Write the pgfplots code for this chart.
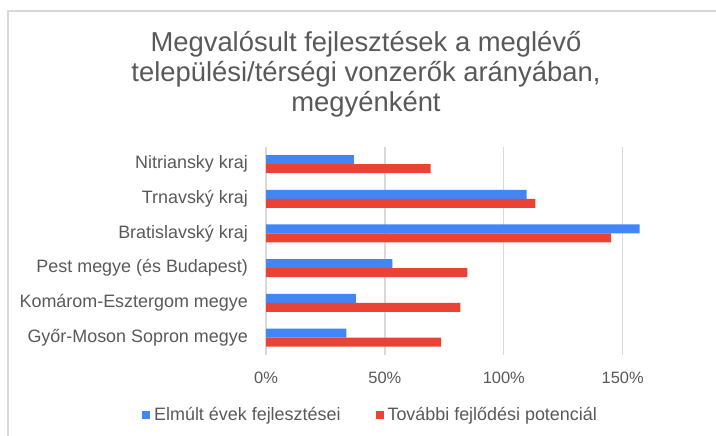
\documentclass[border=0pt]{standalone}
\usepackage{fontspec}
\setmainfont{Liberation Sans}
\usepackage{pgfplots}
\pgfplotsset{compat=1.18}

\definecolor{gblue}{HTML}{4285F4}
\definecolor{gred}{HTML}{EA4335}
\definecolor{txtgray}{HTML}{595959}
\definecolor{gridgray}{HTML}{D9D9D9}

\begin{document}
\begin{tikzpicture}
% page size = picture size
\useasboundingbox (0,0) rectangle (716bp,436bp);
\draw[gridgray, line width=1.3bp] (8bp,0) -- (8bp,425bp) -- (716bp,425bp);

% title
\begin{scope}[every node/.style={anchor=base, text=txtgray, inner sep=0pt, font=\fontsize{27.5}{30}\selectfont}]
\node at (366bp,384bp) {Megvalósult fejlesztések a meglévő};
\node at (366bp,354bp) {települési/térségi vonzerők arányában,};
\node at (366bp,324bp) {megyénként};
\end{scope}

\begin{axis}[
  at={(266bp,81bp)}, anchor=south west,
  scale only axis,
  width=380.5bp, height=208.3bp,
  xmin=0, xmax=160,
  ymin=-0.5, ymax=5.5,
  xtick={0,50,100,150},
  xticklabels={0\%,50\%,100\%,150\%},
  ytick={0,1,2,3,4,5},
  yticklabels={Győr-Moson Sopron megye, Komárom-Esztergom megye, Pest megye (és Budapest), Bratislavský kraj, Trnavský kraj, Nitriansky kraj},
  axis line style={draw=none},
  major tick style={draw=none},
  xmajorgrids,
  grid style={draw=gridgray, line width=1.3bp},
  tick label style={text=txtgray},
  xticklabel style={font=\fontsize{16.5}{19}\selectfont, inner sep=0pt, anchor=base, yshift=-28bp},
  yticklabel style={font=\fontsize{18}{20}\selectfont, inner sep=0pt, anchor=east, xshift=-18bp},
  legend columns=2,
  legend style={
    at={(-0.326,-0.288)}, anchor=west,
    draw=none, fill=none, inner sep=0pt,
    font=\fontsize{18}{20}\selectfont,
    text=txtgray,
    cells={anchor=west},
    nodes={inner sep=0pt},
    /tikz/every odd column/.append style={column sep=4bp},
    /tikz/every even column/.append style={column sep=35bp},
  },
  legend image code/.code={\fill[#1] (0bp,-4bp) rectangle (8bp,4bp);},
]
\addplot[xbar, bar width=9bp, bar shift=4.5bp, fill=gblue, draw=none] coordinates {
  (33.8,0) (37.8,1) (53.1,2) (157.1,3) (109.6,4) (37.0,5)
};
\addlegendentry{Elmúlt évek fejlesztései}
\addplot[xbar, bar width=9bp, bar shift=-4.5bp, fill=gred, draw=none] coordinates {
  (73.6,0) (81.7,1) (84.7,2) (145.1,3) (113.3,4) (69.2,5)
};
\addlegendentry{További fejlődési potenciál}
\end{axis}
\end{tikzpicture}
\end{document}
